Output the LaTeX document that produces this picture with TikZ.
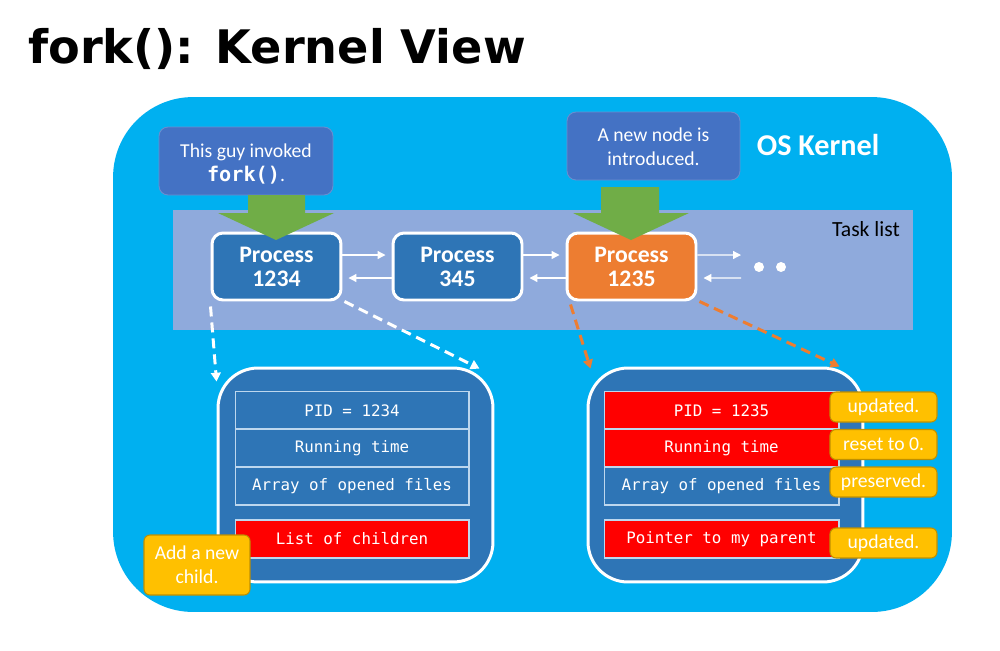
\documentclass[tikz,border=0pt]{standalone}
\usepackage{fontspec}
\setmainfont{Carlito}
\setmonofont{DejaVu Sans Mono}
\newfontfamily\titlefont{DejaVu Sans}
\usetikzlibrary{arrows.meta}
\definecolor{kern}{HTML}{00B0F0}
\definecolor{bandc}{HTML}{8FAADC}
\definecolor{procblue}{HTML}{2E75B6}
\definecolor{procorange}{HTML}{ED7D31}
\definecolor{callc}{HTML}{4472C4}
\definecolor{greenc}{HTML}{70AD47}
\definecolor{redc}{HTML}{FF0000}
\definecolor{yelc}{HTML}{FFC000}
\definecolor{yeld}{HTML}{BF9000}
\definecolor{rowline}{HTML}{BDD7EE}
\begin{document}
\begin{tikzpicture}[x=0.02cm,y=-0.02cm,
  procbox/.style={draw=white, line width=1.7pt, fill=procblue, rounded corners=0.22cm,
    minimum width=2.58cm, minimum height=1.34cm, text=white, inner sep=0pt,
    font=\bfseries\fontsize{13.5}{13.6}\selectfont, align=center},
  callbox/.style={draw=callc!80!white, line width=0.5pt, fill=callc, rounded corners=0.18cm,
    text=white, inner sep=0pt, align=center, font=\fontsize{11.2}{13.4}\selectfont},
  pcb/.style={draw=white, line width=1.7pt, fill=procblue, rounded corners=0.8cm,
    minimum width=5.5cm, minimum height=4.28cm, inner sep=0pt},
  rowbox/.style={draw=rowline, line width=0.6pt, fill=procblue, minimum height=0.76cm,
    text=white, inner sep=0pt, font=\ttfamily\fontsize{9}{11}\selectfont},
  redrow/.style={rowbox, fill=redc},
  tagbox/.style={draw=yeld, line width=0.6pt, fill=yelc, rounded corners=0.12cm, text=white,
    inner sep=0pt, align=center, font=\fontsize{11.2}{13.4}\selectfont},
  linkarrow/.style={draw=white, line width=0.7pt, -{Triangle[length=4.5pt,width=4.5pt]}},
  dasharrow/.style={line width=1.7pt, dash pattern=on 0.2cm off 0.12cm,
    -{Triangle[length=5pt,width=5.5pt]}},
  greenarrow/.style={fill=greenc, draw=none}
]
\useasboundingbox (0,0) rectangle (1000,650);
\fill[white] (0,0) rectangle (1000,650);

% title
\node[anchor=west, font=\titlefont\bfseries\fontsize{26.3}{30}\selectfont] (title) at (22,49) {fork(): Kernel View};

% kernel
\node[fill=kern, rounded corners=1.6cm, minimum width=16.78cm, minimum height=10.3cm, inner sep=0pt] (kernel) at (532.5,354.5) {};
\node[text=white, font=\bfseries\fontsize{17.2}{20}\selectfont] (oslabel) at (818,145) {OS Kernel};

% task list band
\node[fill=bandc, minimum width=14.8cm, minimum height=2.4cm, inner sep=0pt] (band) at (543,270) {};
\node[anchor=east, font=\fontsize{12.3}{14}\selectfont] (tasklabel) at (906,229) {Task list};

% callouts
\node[callbox, minimum width=3.48cm, minimum height=1.36cm] (call1) at (246,161) {};
\node[text=white, align=center, inner sep=0pt, font=\fontsize{11.2}{13.6}\selectfont] (call1txt) at (246,164)
  {This guy invoked\\{\ttfamily\bfseries\fontsize{11.5}{13.6}\selectfont fork()}.};
\node[callbox, minimum width=3.46cm, minimum height=1.36cm] (call2) at (653.5,146) {};
\node[text=white, align=center, inner sep=0pt, font=\fontsize{11.2}{13.4}\selectfont] (call2txt) at (653.5,147)
  {A new node is\\introduced.};

% processes
\node[procbox] (p1) at (276.5,266.5) {Process\\1234};
\node[procbox] (p2) at (457.5,266.5) {Process\\345};
\node[procbox, fill=procorange] (p3) at (631.5,266.5) {Process\\1235};

% green block arrows
\fill[greenarrow] (248,195) -- (305,195) -- (305,213) -- (334,213) -- (276,240) -- (218,213) -- (248,213) -- cycle;
\fill[greenarrow] (601,187) -- (659,187) -- (659,213) -- (689,213) -- (631,240) -- (573,213) -- (601,213) -- cycle;

% links between processes
\coordinate (nextR) at (741,255);
\coordinate (nextL) at (741,278);
\draw[linkarrow] ([yshift=0.23cm]p1.east) -- ([yshift=0.23cm,xshift=-0.12cm]p2.west);
\draw[linkarrow] ([yshift=-0.23cm]p2.west) -- ([yshift=-0.23cm,xshift=0.12cm]p1.east);
\draw[linkarrow] ([yshift=0.23cm]p2.east) -- ([yshift=0.23cm,xshift=-0.12cm]p3.west);
\draw[linkarrow] ([yshift=-0.23cm]p3.west) -- ([yshift=-0.23cm,xshift=0.12cm]p2.east);
\draw[linkarrow] ([yshift=0.23cm]p3.east) -- (nextR);
\draw[linkarrow] (nextL) -- ([yshift=-0.23cm,xshift=0.12cm]p3.east);
\fill[white] (759,267) circle (0.1cm);
\fill[white] (781,267) circle (0.1cm);

% PCBs
\node[pcb] (pcbL) at (355.5,475) {};
\node[pcb] (pcbR) at (725.5,475) {};

% dashed connectors
\draw[dasharrow, white] ([yshift=-0.1cm]p1.south west) -- ([yshift=-0.3cm]pcbL.north west);
\draw[dasharrow, white] ([xshift=0.04cm]p1.south east) -- ([xshift=-0.3cm,yshift=-0.04cm]pcbL.north east);
\draw[dasharrow, procorange] ([xshift=0.1cm,yshift=-0.06cm]p3.south west) -- ([xshift=0.08cm,yshift=-0.04cm]pcbR.north west);
\draw[dasharrow, procorange] ([xshift=0.04cm]p3.south east) -- ([xshift=-0.5cm]pcbR.north east);

% left PCB rows
\node[rowbox, minimum width=4.68cm] (l1) at (352,410.5) {PID = 1234};
\node[rowbox, minimum width=4.68cm] (l2) at (352,448) {Running time};
\node[rowbox, minimum width=4.68cm] (l3) at (352,486) {Array of opened files};
\node[redrow, minimum width=4.68cm] (l4) at (352,539) {List of children};

% right PCB rows
\node[redrow, minimum width=4.7cm] (r1) at (721.5,410.5) {PID = 1235};
\node[redrow, minimum width=4.7cm] (r2) at (721.5,448) {Running time};
\node[rowbox, minimum width=4.7cm] (r3) at (721.5,486) {Array of opened files};
\node[redrow, minimum width=4.7cm] (r4) at (721.5,539) {Pointer to my parent};

% tags
\node[tagbox, minimum width=2.12cm, minimum height=1.2cm] (tagL) at (197,565) {Add a new\\child.};
\node[tagbox, minimum width=2.14cm, minimum height=0.6cm] (t1) at (883.5,407) {updated.};
\node[tagbox, minimum width=2.14cm, minimum height=0.6cm] (t2) at (883.5,444.5) {reset to 0.};
\node[tagbox, minimum width=2.14cm, minimum height=0.6cm] (t3) at (883.5,482) {preserved.};
\node[tagbox, minimum width=2.14cm, minimum height=0.6cm] (t4) at (883.5,543) {updated.};
\end{tikzpicture}
\end{document}
